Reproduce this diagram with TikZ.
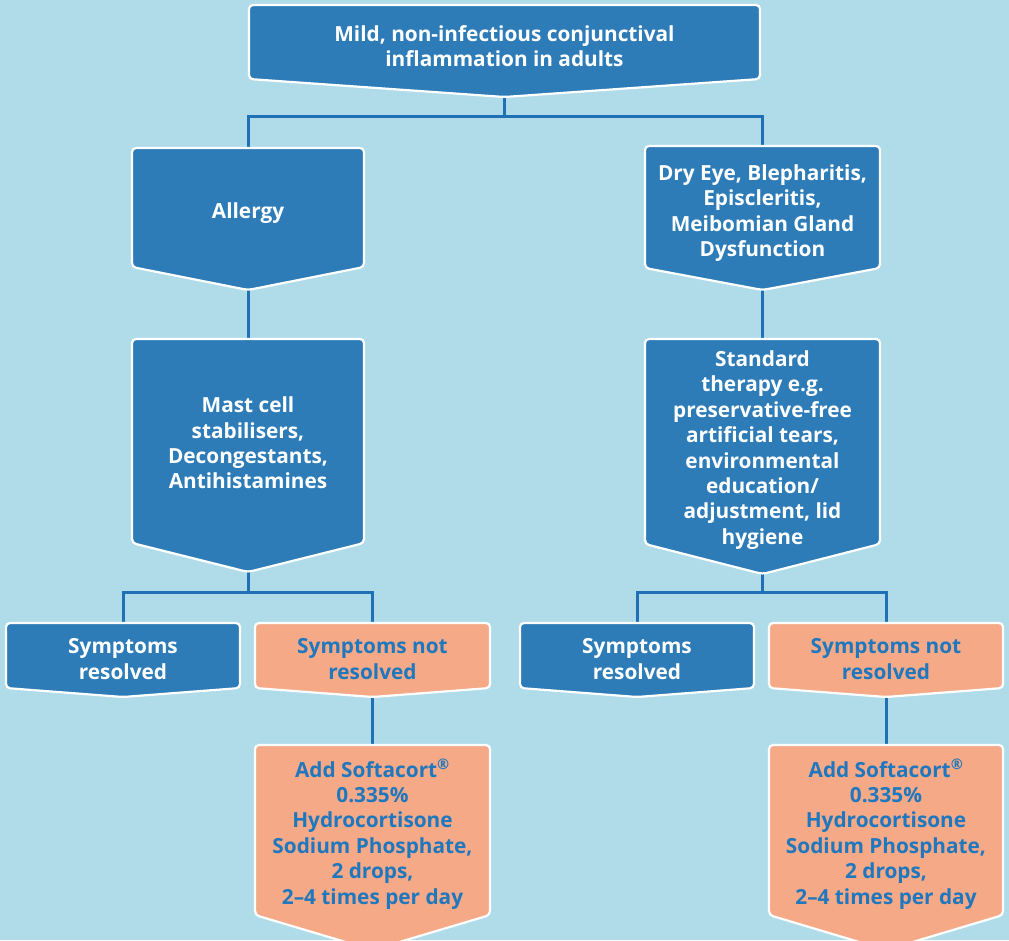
\documentclass[tikz,border=0pt]{standalone}
\usepackage{fontspec}
\setmainfont{Open Sans}
\usetikzlibrary{calc}
\definecolor{bgblue}{HTML}{B0DCEA}
\definecolor{boxblue}{HTML}{2D7CB8}
\definecolor{boxorange}{HTML}{F5A987}
\definecolor{lineblue}{HTML}{1F70B5}
\definecolor{textblue}{HTML}{1F78BE}
\pgfdeclarelayer{bglayer}
\pgfdeclarelayer{connlayer}
\pgfsetlayers{bglayer,connlayer,main}
\tikzset{
  bluebox/.style={fill=boxblue, draw=white, line width=2.2pt, rounded corners=4pt},
  orangebox/.style={fill=boxorange, draw=white, line width=2.2pt, rounded corners=4pt},
  whitetext/.style={text=white, align=center, font=\bfseries\fontsize{20.8}{25.4}\selectfont, inner sep=0pt},
  bluetext/.style={text=textblue, align=center, font=\bfseries\fontsize{20.8}{25.4}\selectfont, inner sep=0pt},
  conn/.style={draw=lineblue, line width=3pt}
}
% #1 name, #2 style, #3 left, #4 right, #5 top, #6 side bottom, #7 tip
\newcommand\chevshape[7]{%
  \path[#2] (#3,#5) -- (#4,#5) -- (#4,#6) -- ({(#3+#4)/2},#7) -- (#3,#6) -- cycle;
  \coordinate (#1-top) at ({(#3+#4)/2},#5);
  \coordinate (#1-tip) at ({(#3+#4)/2},#7);
}
\begin{document}
\begin{tikzpicture}[x=1pt,y=-1pt]
\useasboundingbox (0,0) rectangle (1009,940);
\begin{pgfonlayer}{bglayer}
  \fill[bgblue] (0,0) rectangle (1009,940);
\end{pgfonlayer}
\clip (0,0) rectangle (1009,940);

% shapes
\chevshape{top}{bluebox}{249}{760}{5}{79}{97}
\chevshape{allergy}{bluebox}{132}{364}{148}{267}{290}
\chevshape{dry}{bluebox}{645}{880}{146}{268}{290}
\chevshape{mast}{bluebox}{132}{364}{339}{543}{572}
\chevshape{std}{bluebox}{645}{880}{339}{544}{574}
\chevshape{sra}{bluebox}{6}{240}{623}{688}{697}
\chevshape{snra}{orangebox}{255}{490}{623}{688}{697}
\chevshape{srb}{bluebox}{520}{754}{623}{688}{697}
\chevshape{snrb}{orangebox}{769}{1003}{623}{688}{697}
\chevshape{adda}{orangebox}{255}{490}{745}{915}{950}
\chevshape{addb}{orangebox}{769}{1003}{745}{915}{950}

% texts
\node[whitetext] (t-top) at (504.5,46) {Mild, non-infectious conjunctival\\inflammation in adults};
\node[whitetext] (t-allergy) at (248,213) {Allergy};
\node[whitetext] (t-dry) at (762.5,213) {Dry Eye, Blepharitis,\\Episcleritis,\\Meibomian Gland\\Dysfunction};
\node[whitetext] (t-mast) at (248,443) {Mast cell\\stabilisers,\\Decongestants,\\Antihistamines};
\node[whitetext] (t-std) at (762.5,450) {Standard\\therapy e.g.\\preservative-free\\artificial tears,\\environmental\\education/\\adjustment, lid\\hygiene};
\node[whitetext] (t-sra) at (123,659) {Symptoms\\resolved};
\node[bluetext] (t-snra) at (372.5,659) {Symptoms not\\resolved};
\node[whitetext] (t-srb) at (637,659) {Symptoms\\resolved};
\node[bluetext] (t-snrb) at (886,659) {Symptoms not\\resolved};
\node[bluetext] (t-adda) at (372.5,834) {Add Softacort\textsuperscript{®}\\0.335\%\\Hydrocortisone\\Sodium Phosphate,\\2 drops,\\2–4 times per day};
\node[bluetext] (t-addb) at (886,834) {Add Softacort\textsuperscript{®}\\0.335\%\\Hydrocortisone\\Sodium Phosphate,\\2 drops,\\2–4 times per day};

% connectors
\begin{pgfonlayer}{connlayer}
  \draw[conn] (top-tip) -- ++(0,19) -| (allergy-top);
  \draw[conn] (top-tip) -- ++(0,19) -| (dry-top);
  \draw[conn] (allergy-tip) -- (mast-top);
  \draw[conn] (dry-tip) -- (std-top);
  \draw[conn] (mast-tip) -- ++(0,20) -| (sra-top);
  \draw[conn] (mast-tip) -- ++(0,20) -| (snra-top);
  \draw[conn] (std-tip) -- ++(0,18) -| (srb-top);
  \draw[conn] (std-tip) -- ++(0,18) -| (snrb-top);
  \draw[conn] (snra-tip) -- (adda-top);
  \draw[conn] (snrb-tip) -- (addb-top);
\end{pgfonlayer}
\end{tikzpicture}
\end{document}
